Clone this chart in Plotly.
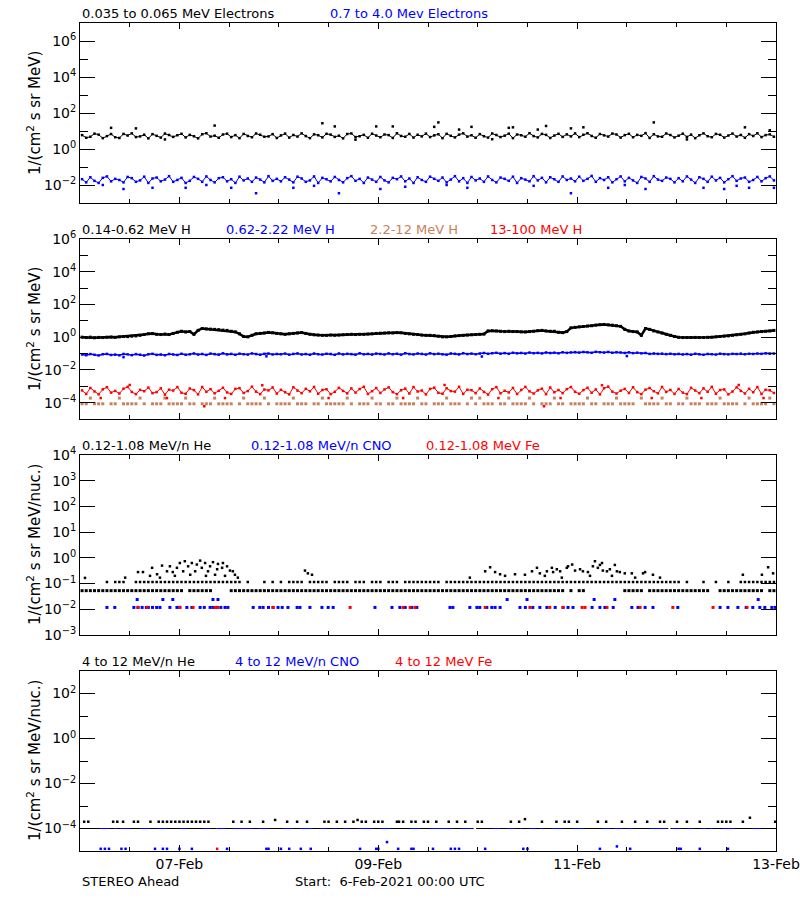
import plotly.graph_objects as go

# ---------------- time base: hours after 6-Feb-2021 00:00 UTC ----------------
HOUR_CENTRES = [h + 0.5 for h in range(168)]
X_MAJOR = [24, 72, 120, 168]
X_LABELS = ["07-Feb", "09-Feb", "11-Feb", "13-Feb"]
X_MINOR = [12, 36, 48, 60, 84, 96, 108, 132, 144, 156]

# ---------------- Panel 1: electrons (hourly band + isolated points) ----------------
E_LOW = [
    5.9, 4.2, 4.8, 7.1, 6.3, 4.0, 5.2, 6.8, 4.5, 4.1, 6.9, 5.6, 7.4, 4.6, 5.0, 6.2, 3.9, 6.7, 5.4, 4.3, 7.2, 6.0, 4.7, 5.8,
    7.0, 4.4, 6.1, 5.1, 3.9, 6.6, 7.5, 4.9, 5.5, 4.2, 6.4, 7.1, 4.6, 5.9, 4.0, 6.9, 5.3, 4.5, 7.3, 6.2, 4.8, 5.0, 6.7, 4.1,
    5.7, 7.2, 4.3, 6.0, 4.9, 7.4, 5.2, 4.0, 6.5, 5.8, 4.4, 7.0, 6.3, 4.7, 5.5, 3.9, 6.8, 7.3, 4.6, 5.1, 6.1, 4.2, 7.1, 5.6,
    4.5, 6.4, 5.9, 4.1, 7.5, 5.3, 4.8, 6.9, 4.3, 6.2, 5.0, 7.2, 4.6, 5.7, 6.6, 4.0, 7.0, 5.4, 4.4, 6.3, 7.4, 4.9, 5.8, 4.2,
    6.7, 5.1, 4.3, 7.3, 6.0, 4.6, 5.5, 7.1, 4.0, 6.4, 5.8, 4.8, 7.6, 5.2, 4.4, 6.9, 6.1, 4.1, 5.6, 7.0, 4.7, 6.5, 5.0, 7.4,
    4.6, 6.2, 7.5, 5.3, 4.2, 6.8, 5.7, 4.9, 7.2, 6.4, 4.3, 5.9, 7.0, 4.5, 6.1, 5.4, 7.6, 4.1, 6.6, 5.0, 4.8, 7.3, 6.0, 4.4,
    5.5, 7.1, 4.7, 6.3, 4.0, 5.8, 7.4, 5.1, 4.5, 6.9, 6.2, 4.3, 5.6, 7.2, 4.9, 6.0, 4.2, 6.7, 5.3, 7.5, 4.6, 5.9, 6.5, 4.8,
]
E_LOW_SPIKES = [(7.5, 15), (13.5, 14), (32.5, 20), (58.5, 27), (61.5, 18), (71.5, 18), (75.5, 18), (85.5, 17), (86.5, 30),
                (91.5, 12), (94.5, 17), (103.5, 15), (104.5, 16), (110.5, 12), (112.5, 19), (118.5, 14), (121.5, 16),
                (138.5, 30), (160.5, 16), (166.5, 11), (20.5, 3.4), (66.5, 3.3), (99.5, 3.5), (146.5, 3.4)]
E_HIGH = [
    0.021, 0.014, 0.027, 0.017, 0.013, 0.025, 0.030, 0.016, 0.022, 0.019, 0.014, 0.028, 0.024, 0.015, 0.018, 0.029, 0.013, 0.023, 0.026, 0.016, 0.020, 0.031, 0.015, 0.019,
    0.025, 0.013, 0.017, 0.028, 0.022, 0.015, 0.030, 0.019, 0.014, 0.024, 0.027, 0.016, 0.021, 0.013, 0.029, 0.018, 0.023, 0.015, 0.026, 0.020, 0.014, 0.031, 0.017, 0.022,
    0.016, 0.027, 0.020, 0.014, 0.029, 0.023, 0.015, 0.018, 0.030, 0.013, 0.025, 0.021, 0.016, 0.028, 0.019, 0.014, 0.024, 0.031, 0.017, 0.022, 0.013, 0.026, 0.020, 0.015,
    0.028, 0.018, 0.014, 0.025, 0.021, 0.030, 0.016, 0.023, 0.013, 0.027, 0.019, 0.015, 0.029, 0.022, 0.017, 0.026, 0.014, 0.020, 0.031, 0.016, 0.024, 0.013, 0.028, 0.018,
    0.023, 0.015, 0.030, 0.019, 0.014, 0.026, 0.022, 0.017, 0.029, 0.013, 0.024, 0.020, 0.016, 0.031, 0.018, 0.025, 0.014, 0.027, 0.021, 0.015, 0.030, 0.019, 0.023, 0.016,
    0.029, 0.017, 0.022, 0.032, 0.015, 0.024, 0.019, 0.027, 0.014, 0.021, 0.030, 0.016, 0.025, 0.018, 0.013, 0.028, 0.023, 0.015, 0.031, 0.020, 0.017, 0.026, 0.022, 0.014,
    0.024, 0.016, 0.030, 0.020, 0.013, 0.027, 0.022, 0.015, 0.029, 0.018, 0.025, 0.014, 0.021, 0.031, 0.017, 0.023, 0.026, 0.015, 0.019, 0.028, 0.016, 0.024, 0.030, 0.018,
]
E_HIGH_DIPS = [(10.5, 0.006), (17.5, 0.007), (25.5, 0.007), (36.5, 0.007), (42.5, 0.0035), (51.5, 0.007), (62.5, 0.0035),
               (72.5, 0.006), (78.5, 0.008), (93.5, 0.007), (118.5, 0.0035), (127.5, 0.007), (136.5, 0.006),
               (150.5, 0.007), (155.5, 0.006), (161.5, 0.007), (167.5, 0.007), (5.5, 0.010), (30.5, 0.010),
               (56.5, 0.009), (88.5, 0.010), (109.5, 0.009), (131.5, 0.010), (158.5, 0.009)]

# ---------------- Panel 2: protons (hourly) ----------------
H_LOW = [
    1.0, 0.95, 1.0, 0.92, 0.97, 0.95, 1.0, 1.02, 0.98, 1.05, 1.1, 1.08, 1.15, 1.2, 1.3, 1.45, 1.6, 1.65, 1.5, 1.45, 1.55, 1.45, 1.7, 2.0,
    2.3, 2.1, 2.2, 1.5, 2.6, 3.4, 3.2, 3.1, 3.0, 2.9, 2.7, 2.6, 2.3, 2.1, 1.6, 1.1, 1.05, 1.3, 1.6, 1.7, 1.8, 1.95, 1.85, 1.7,
    1.6, 1.5, 1.6, 1.7, 1.8, 1.9, 1.7, 1.5, 1.4, 1.35, 1.3, 1.3, 1.35, 1.3, 1.35, 1.4, 1.45, 1.5, 1.45, 1.5, 1.5, 1.55, 1.6, 1.7,
    1.75, 1.8, 1.85, 1.8, 1.9, 1.85, 1.7, 1.6, 1.5, 1.45, 1.35, 1.3, 1.3, 1.25, 1.15, 1.05, 1.05, 1.1, 1.2, 1.25, 1.3, 1.35, 1.4, 1.45,
    1.5, 1.55, 2.4, 2.5, 2.4, 2.3, 2.2, 2.3, 2.2, 2.2, 2.1, 2.1, 2.2, 2.3, 2.5, 2.6, 2.4, 2.3, 2.3, 2.0, 1.9, 2.2, 3.7, 4.0,
    4.3, 4.5, 4.8, 5.0, 5.5, 5.8, 6.0, 5.7, 5.4, 5.0, 4.6, 3.0, 2.4, 2.2, 2.1, 1.3, 3.4, 3.0, 2.4, 2.1, 1.8, 1.5, 1.3, 1.1,
    0.98, 0.95, 0.95, 0.96, 0.97, 0.95, 0.96, 0.98, 1.0, 1.05, 1.1, 1.15, 1.2, 1.3, 1.4, 1.5, 1.6, 1.8, 2.0, 2.1, 2.2, 2.3, 2.4, 2.6,
]
H_MID = [
    0.088, 0.079, 0.093, 0.084, 0.077, 0.091, 0.095, 0.082, 0.086, 0.078, 0.094, 0.089, 0.080, 0.092, 0.085, 0.076, 0.090, 0.096, 0.083, 0.087, 0.079, 0.094, 0.088, 0.082,
    0.097, 0.085, 0.090, 0.101, 0.087, 0.094, 0.083, 0.099, 0.092, 0.086, 0.103, 0.089, 0.095, 0.084, 0.098, 0.091, 0.087, 0.102, 0.093, 0.085, 0.096, 0.100, 0.088, 0.094,
    0.090, 0.099, 0.086, 0.095, 0.102, 0.088, 0.093, 0.085, 0.100, 0.091, 0.087, 0.097, 0.094, 0.084, 0.101, 0.089, 0.096, 0.092, 0.086, 0.103, 0.090, 0.095, 0.087, 0.099,
    0.094, 0.088, 0.102, 0.091, 0.097, 0.086, 0.104, 0.093, 0.089, 0.100, 0.095, 0.087, 0.103, 0.092, 0.098, 0.090, 0.086, 0.101, 0.096, 0.089, 0.105, 0.093, 0.099, 0.091,
    0.100, 0.108, 0.096, 0.104, 0.111, 0.099, 0.106, 0.097, 0.112, 0.103, 0.109, 0.100, 0.114, 0.105, 0.110, 0.102, 0.116, 0.107, 0.113, 0.104, 0.119, 0.110, 0.117, 0.122,
    0.114, 0.124, 0.118, 0.111, 0.127, 0.120, 0.115, 0.125, 0.112, 0.121, 0.116, 0.109, 0.118, 0.106, 0.113, 0.103, 0.108, 0.095, 0.101, 0.096, 0.099, 0.092, 0.097, 0.090,
    0.095, 0.088, 0.093, 0.086, 0.097, 0.090, 0.084, 0.094, 0.091, 0.087, 0.098, 0.092, 0.089, 0.096, 0.093, 0.099, 0.091, 0.097, 0.094, 0.101, 0.096, 0.103, 0.098, 0.100,
]
H_MID_DIPS = [(10.5, 0.060), (45.0, 0.068), (97.0, 0.066), (132.0, 0.070)]
H_2_12 = [
    8.5e-5, 8.5e-5, 1.9e-4, 8.5e-5, 8.5e-5, 8.5e-5, None, 8.5e-5, 8.5e-5, 1.9e-4, 8.5e-5, 8.5e-5, 8.5e-5, 8.5e-5, 1.9e-4, 8.5e-5, None, 8.5e-5, 8.5e-5, 8.5e-5, 1.9e-4, 8.5e-5, 8.5e-5, 8.5e-5,
    8.5e-5, 1.9e-4, 8.5e-5, 8.5e-5, None, 8.5e-5, 8.5e-5, 8.5e-5, 1.9e-4, 8.5e-5, 8.5e-5, 8.5e-5, 8.5e-5, None, 8.5e-5, 1.9e-4, 8.5e-5, 8.5e-5, 8.5e-5, 8.5e-5, 1.9e-4, 8.5e-5, None, 8.5e-5,
    8.5e-5, 8.5e-5, 8.5e-5, 1.9e-4, 8.5e-5, 8.5e-5, 8.5e-5, None, 8.5e-5, 8.5e-5, 1.9e-4, 8.5e-5, 8.5e-5, 8.5e-5, 8.5e-5, 8.5e-5, 1.9e-4, 8.5e-5, None, 8.5e-5, 8.5e-5, 8.5e-5, 1.9e-4, 8.5e-5,
    8.5e-5, None, 8.5e-5, 8.5e-5, 1.9e-4, 8.5e-5, 8.5e-5, 8.5e-5, 8.5e-5, 1.9e-4, 8.5e-5, 8.5e-5, None, 8.5e-5, 8.5e-5, 8.5e-5, 1.9e-4, 8.5e-5, 8.5e-5, 8.5e-5, None, 8.5e-5, 1.9e-4, 8.5e-5,
    1.9e-4, 8.5e-5, 8.5e-5, 8.5e-5, None, 8.5e-5, 8.5e-5, 1.9e-4, 8.5e-5, 8.5e-5, 8.5e-5, 8.5e-5, 1.9e-4, 8.5e-5, None, 8.5e-5, 8.5e-5, 8.5e-5, 1.9e-4, 8.5e-5, 8.5e-5, None, 8.5e-5, 8.5e-5,
    8.5e-5, 8.5e-5, 1.9e-4, 8.5e-5, 8.5e-5, None, 8.5e-5, 8.5e-5, 8.5e-5, 1.9e-4, 8.5e-5, 8.5e-5, 8.5e-5, 8.5e-5, None, 1.9e-4, 8.5e-5, 8.5e-5, 8.5e-5, 8.5e-5, 1.9e-4, 8.5e-5, 8.5e-5, None,
    8.5e-5, 8.5e-5, 1.9e-4, 8.5e-5, 8.5e-5, 8.5e-5, None, 8.5e-5, 8.5e-5, 8.5e-5, 1.9e-4, 8.5e-5, 8.5e-5, 8.5e-5, 8.5e-5, None, 8.5e-5, 1.9e-4, 8.5e-5, 8.5e-5, 8.5e-5, 8.5e-5, 1.9e-4, 8.5e-5,
]
H_HIGH = [
    5.6e-4, 3.4e-4, 7.9e-4, 4.8e-4, 3.2e-4, 6.5e-4, 8.8e-4, 4.1e-4, 5.2e-4, 3.6e-4, 7.1e-4, 9.2e-4, 4.5e-4, 3.3e-4, 6.0e-4, 5.0e-4, 8.3e-4, 3.8e-4, 4.4e-4, 7.5e-4, 3.1e-4, 6.2e-4, 5.5e-4, 8.9e-4,
    4.0e-4, 3.5e-4, 7.3e-4, 5.8e-4, 3.2e-4, 9.0e-4, 4.6e-4, 6.7e-4, 3.7e-4, 5.3e-4, 8.1e-4, 4.2e-4, 3.4e-4, 6.9e-4, 7.7e-4, 3.9e-4, 5.1e-4, 9.4e-4, 4.7e-4, 3.3e-4, 6.3e-4, 5.6e-4, 8.5e-4, 3.6e-4,
    6.1e-4, 4.3e-4, 3.2e-4, 8.7e-4, 5.4e-4, 3.8e-4, 7.0e-4, 4.9e-4, 9.1e-4, 3.5e-4, 5.9e-4, 6.6e-4, 3.3e-4, 4.6e-4, 8.0e-4, 5.2e-4, 3.7e-4, 7.4e-4, 4.1e-4, 6.8e-4, 9.3e-4, 3.4e-4, 5.0e-4, 7.8e-4,
    3.9e-4, 6.4e-4, 8.6e-4, 4.4e-4, 3.3e-4, 5.7e-4, 7.2e-4, 3.6e-4, 9.0e-4, 4.8e-4, 5.5e-4, 3.2e-4, 6.9e-4, 8.2e-4, 4.0e-4, 3.5e-4, 7.6e-4, 5.1e-4, 4.7e-4, 9.3e-4, 3.4e-4, 6.1e-4, 5.8e-4, 3.8e-4,
    7.3e-4, 4.5e-4, 3.1e-4, 6.6e-4, 8.9e-4, 3.7e-4, 5.3e-4, 4.2e-4, 7.9e-4, 3.4e-4, 6.0e-4, 9.2e-4, 4.9e-4, 3.6e-4, 5.6e-4, 7.1e-4, 3.3e-4, 8.4e-4, 4.3e-4, 5.9e-4, 3.8e-4, 6.7e-4, 9.0e-4, 4.6e-4,
    3.5e-4, 5.8e-4, 8.1e-4, 4.0e-4, 6.4e-4, 3.2e-4, 7.6e-4, 9.5e-4, 4.7e-4, 3.6e-4, 5.4e-4, 6.9e-4, 3.9e-4, 8.7e-4, 4.4e-4, 3.3e-4, 6.2e-4, 7.8e-4, 5.0e-4, 3.7e-4, 9.1e-4, 4.5e-4, 6.0e-4, 3.4e-4,
    6.8e-4, 4.1e-4, 3.3e-4, 8.0e-4, 5.5e-4, 3.8e-4, 7.4e-4, 4.6e-4, 9.2e-4, 3.5e-4, 5.9e-4, 6.4e-4, 3.2e-4, 4.8e-4, 8.6e-4, 5.2e-4, 3.6e-4, 7.0e-4, 4.3e-4, 9.0e-4, 3.4e-4, 6.1e-4, 5.7e-4, 3.9e-4,
]
H_HIGH_EXTRA = [(5, 1.9e-4), (12, 1.2e-3), (21, 1.9e-4), (30, 6e-5), (35, 1.9e-4), (44, 1.15e-3), (60, 1.9e-4),
                (78, 1.9e-4), (88, 1.2e-3), (101, 1.9e-4), (112, 6e-5), (116, 1.9e-4), (126, 1.15e-3), (138, 1.9e-4),
                (150, 1.9e-4), (159, 1.2e-3), (165, 1.9e-4)]

# ---------------- Panel 3: 0.12-1.08 MeV/n heavy ions ----------------
P3_HE_BASE_LEVEL = 0.053
P3_HE_BASE_RUNS = [(0, 25), (26, 32), (36, 117), (118, 119), (120, 122), (131, 136), (137, 152), (154, 165), (166, 168)]
P3_HE_MID_LEVEL = 0.115
P3_HE_MID_HOURS = [6, 8, 9, 10, 13, 14, 15, 16, 17, 18, 19, 20, 21, 22, 23, 24, 25, 26, 27, 28, 29, 30, 31, 32, 33, 34, 35, 36,
                   37, 38, 40, 44, 46, 48, 50, 51, 52, 53, 55, 56, 57, 58, 59, 61, 62, 63, 64, 66, 67, 68, 70, 71, 72, 74, 75, 76,
                   78, 79, 80, 81, 82, 83, 84, 85, 86, 88, 89, 90, 91, 92, 93, 94, 95, 96, 97, 98, 99, 100, 101, 102, 103, 104,
                   105, 106, 107, 108, 109, 110, 111, 112, 113, 114, 115, 116, 117, 118, 119, 120, 121, 122, 123, 124, 125, 126,
                   127, 128, 129, 130, 131, 132, 133, 134, 135, 136, 137, 138, 139, 140, 141, 142, 143, 144, 146, 150, 153, 156,
                   159, 160, 161, 162, 163, 164, 165, 166, 167]
P3_HE_UPPER = [
    (1.2, 0.166), (10.9, 0.17), (14.0, 0.28), (15.2, 0.28), (16.9, 0.2), (17.4, 0.41), (18.6, 0.23), (19.3, 0.17), (19.8, 0.5),
    (21.0, 0.3), (21.7, 0.47), (22.4, 0.28), (22.9, 0.2), (23.4, 0.41), (24.1, 0.63), (24.9, 0.3), (25.3, 0.74), (26.1, 0.47),
    (26.6, 0.22), (27.0, 0.63), (27.8, 0.3), (28.2, 0.55), (29.0, 0.78), (29.4, 0.41), (30.2, 0.63), (30.4, 0.2), (30.9, 0.3),
    (31.4, 0.47), (32.1, 0.68), (32.6, 0.22), (33.1, 0.36), (33.3, 0.58), (34.3, 0.41), (34.5, 0.63), (35.0, 0.2), (35.5, 0.47),
    (36.2, 0.32), (36.9, 0.3), (37.4, 0.22), (38.1, 0.17), (54.3, 0.32), (55.0, 0.25), (56.0, 0.22), (94.1, 0.17), (97.8, 0.3),
    (99.0, 0.43), (100.2, 0.28), (101.4, 0.23), (102.6, 0.2), (105.0, 0.23), (107.4, 0.22), (109.1, 0.3), (110.3, 0.41),
    (111.0, 0.25), (112.2, 0.2), (112.7, 0.3), (113.9, 0.41), (114.2, 0.28), (115.1, 0.36), (115.9, 0.3), (116.3, 0.17),
    (117.5, 0.41), (117.8, 0.47), (118.8, 0.55), (119.5, 0.32), (120.7, 0.36), (121.4, 0.3), (122.6, 0.28), (123.1, 0.2),
    (123.8, 0.47), (124.3, 0.74), (125.0, 0.41), (125.5, 0.53), (126.0, 0.63), (126.2, 0.32), (127.2, 0.3), (127.9, 0.36),
    (128.4, 0.2), (129.1, 0.53), (129.6, 0.3), (130.3, 0.28), (131.5, 0.25), (133.2, 0.25), (134.0, 0.17), (135.9, 0.25),
    (136.4, 0.28), (138.3, 0.22), (140.0, 0.17), (160.0, 0.22), (164.6, 0.22), (166.1, 0.43), (167.3, 0.25),
]
P3_CNO_LOW_LEVEL = 0.0118
P3_CNO_LOW_HOURS = [6.5, 8.4, 13, 14, 15, 16, 16.5, 17.5, 18.5, 19.3, 21.7, 23.4, 24.1, 25.8, 27, 29, 30, 31.4, 32.1, 33, 34,
                    35, 35.7, 41.8, 43.4, 44.2, 45.5, 46.6, 47.8, 48.8, 50.2, 52.4, 53.1, 55.5, 58.4, 59.9, 61.1, 71.2, 75.3,
                    77.2, 78.5, 80.1, 81.3, 89.3, 90, 94.1, 95.8, 96.5, 98.2, 99.4, 100.2, 101.4, 106.2, 107.5, 109.3, 111,
                    112.7, 114.7, 116.6, 117.8, 119, 123.6, 125.5, 126.7, 128.7, 133.2, 134.7, 136.4, 138.3, 144.3, 154.5,
                    156.4, 158.8, 160.8, 162.4, 164.1, 165.3, 167, 167.8]
P3_CNO_HIGH_LEVEL = 0.024
P3_CNO_HIGH_HOURS = [13.8, 20, 22.4, 32.1, 33.3, 103.1, 107.9, 124.1, 129.1, 163.7]
P3_FE_LEVEL = 0.0118
P3_FE_HOURS = [14, 16.2, 24.1, 27.3, 32.6, 33.3, 46.6, 65.2, 78, 79.7, 80.9, 97.8, 108.6, 113.4, 116.6, 121.2, 121.9,
               127.2, 135.2, 143.1, 152.8, 161]

# ---------------- Panel 4: 4-12 MeV/n heavy ions ----------------
P4_HE_BASE_LEVEL = 1.0e-4
P4_HE_BASE_SEGMENTS = [(0, 33), (33.5, 95), (95.6, 142), (142.5, 168)]
P4_HE_UPPER = [
    (1, 2e-4), (2, 2e-4), (8, 2e-4), (9, 2e-4), (10.4, 2e-4), (13, 2e-4), (14, 2e-4), (17, 2e-4), (19, 2e-4), (20, 2e-4),
    (21, 2e-4), (22, 2e-4), (23, 2e-4), (24, 2e-4), (25, 2e-4), (26, 2e-4), (27, 2e-4), (28, 2e-4), (29, 2e-4), (30, 2e-4),
    (31, 2e-4), (37, 2e-4), (39, 2e-4), (41, 2e-4), (44.2, 2e-4), (47.1, 2.4e-4), (50, 2e-4), (52.4, 2e-4), (54.8, 2e-4),
    (59, 2e-4), (60, 2e-4), (62, 2e-4), (64, 2e-4), (66, 2e-4), (67, 2.4e-4), (68, 2e-4), (69, 2e-4), (71, 2e-4), (72, 2e-4),
    (73, 2e-4), (76.5, 2e-4), (77, 2e-4), (78, 2e-4), (80, 2e-4), (81, 2e-4), (83, 2e-4), (84, 2e-4), (86, 2e-4), (89, 2e-4),
    (91, 2e-4), (93, 2e-4), (96, 2e-4), (97, 2e-4), (104, 2e-4), (106, 2e-4), (107.4, 2.6e-4), (111.5, 2e-4), (115, 2e-4),
    (117, 2e-4), (118, 2e-4), (120, 2e-4), (125, 2e-4), (127, 2e-4), (130.8, 2e-4), (134, 2e-4), (136.9, 2e-4), (140, 2e-4),
    (141, 2e-4), (144.1, 2e-4), (146.5, 2e-4), (149.6, 2e-4), (154, 2e-4), (155, 2e-4), (156, 2e-4), (157, 2e-4),
    (160, 2e-4), (161.7, 3e-4), (167.8, 2e-4),
]
P4_CNO_BASE_LEVEL = 1.0e-4
P4_CNO_BASE_SEGMENTS = [(1.5, 3.0), (4.8, 7.2), (8.2, 8.9), (9.7, 12.1), (14.5, 17.0), (18.6, 21.0), (24.1, 25.8),
                        (29.7, 31.4), (33.0, 35.2), (36.9, 41.8), (43.0, 45.5), (49.0, 51.4), (53.1, 56.2), (58.0, 59.5),
                        (61.1, 62.0), (63.5, 65.0), (66.9, 70.7), (72.5, 75.0), (79.7, 82.1), (84.5, 90.0), (92.0, 94.5),
                        (99.7, 101.4), (103.0, 105.0), (106.2, 106.7), (108.5, 110.0), (111.0, 111.8), (114.0, 116.5),
                        (119.0, 121.5), (126.2, 127.9), (129.0, 131.0), (132.0, 133.5), (137.6, 141.7), (143.0, 145.0),
                        (146.5, 148.0), (150.0, 151.2), (152.0, 152.8), (155.0, 158.0), (162.4, 168.0)]
P4_CNO_LOW = [
    (5, 1.25e-5), (6, 1.25e-5), (7, 1.25e-5), (10, 1.25e-5), (11, 1.25e-5), (18.1, 1.25e-5), (20, 1.25e-5), (21, 1.25e-5),
    (24, 1.25e-5), (27, 1.25e-5), (35.5, 1.25e-5), (45, 1.25e-5), (45.5, 1.25e-5), (48.5, 1.25e-5), (50.5, 1.25e-5),
    (53.3, 1.25e-5), (55.7, 1.25e-5), (67.6, 1.25e-5), (71.5, 1.25e-5), (72, 1.25e-5), (74.1, 2.5e-5), (76.8, 1.25e-5),
    (80, 1.25e-5), (80.5, 1.25e-5), (85.2, 1.25e-5), (89.5, 1.25e-5), (90.5, 1.25e-5), (91.5, 1.25e-5), (97.8, 1.25e-5),
    (107, 1.25e-5), (108, 1.25e-5), (125.5, 1.25e-5), (129.6, 1.6e-5), (132.8, 1.25e-5), (144.5, 1.25e-5), (145, 1.25e-5),
    (149.6, 1.25e-5), (156.4, 1.25e-5),
]
P4_FE = [(33.1, 1.25e-5)]

for arr in (E_LOW, E_HIGH, H_LOW, H_MID, H_2_12, H_HIGH):
    assert len(arr) == 168, len(arr)

# ---------------- texts ----------------
TITLES = [
    [("0.035 to 0.065 MeV Electrons", "#000000", 80), ("0.7 to 4.0 Mev Electrons", "#0000FF", 328)],
    [("0.14-0.62 MeV H", "#000000", 80), ("0.62-2.22 MeV H", "#0000FF", 224),
     ("2.2-12 MeV H", "#C8805F", 368), ("13-100 MeV H", "#FF0000", 488)],
    [("0.12-1.08 MeV/n He", "#000000", 80), ("0.12-1.08 MeV/n CNO", "#0000FF", 249), ("0.12-1.08 MeV Fe", "#FF0000", 424)],
    [("4 to 12 MeV/n He", "#000000", 80), ("4 to 12 MeV/n CNO", "#0000FF", 233), ("4 to 12 MeV Fe", "#FF0000", 393)],
]
Y_TITLES = ["1/(cm<sup>2</sup> s sr MeV)", "1/(cm<sup>2</sup> s sr MeV)",
            "1/(cm<sup>2</sup> s sr MeV/nuc.)", "1/(cm<sup>2</sup> s sr MeV/nuc.)"]
Y_RANGES = [(-3, 7), (-5, 6), (-3, 4), (-5, 3)]
Y_MAJOR_EXP = [[-2, 0, 2, 4, 6], [-4, -2, 0, 2, 4, 6], [-3, -2, -1, 0, 1, 2, 3, 4], [-4, -2, 0, 2]]
Y_MINOR_EXP = [[-1, 1, 3, 5], [-3, -1, 1, 3, 5], [], [-3, -1, 1]]
FOOTER_LEFT = "STEREO Ahead"
FOOTER_MID = "Start:\u00a0 6-Feb-2021 00:00 UTC"

# ---------------- geometry ----------------
W, H = 800, 900
L_PX, R_PX = 80, 776
PANEL_TOPS = [23, 239, 455, 671]
PANEL_H = 180
FONT = "DejaVu Sans"

def px_x(px):
    return (px - L_PX) / (R_PX - L_PX)

def px_y(py):
    return 1 - py / H

fig = go.Figure()

def axes(i):
    return ("x" if i == 0 else f"x{i+1}", "y" if i == 0 else f"y{i+1}")

def add_points(i, xs, ys, color, size=3):
    xa, ya = axes(i)
    fig.add_trace(go.Scatter(x=xs, y=ys, mode="markers", xaxis=xa, yaxis=ya,
                             marker=dict(symbol="square", size=size, color=color, line=dict(width=0)),
                             hoverinfo="skip", showlegend=False))

def add_band(i, xs, ys, color, width=1, size=2):
    xa, ya = axes(i)
    fig.add_trace(go.Scatter(x=xs, y=ys, mode="lines+markers", xaxis=xa, yaxis=ya,
                             line=dict(color=color, width=width),
                             marker=dict(symbol="square", size=size, color=color, line=dict(width=0)),
                             hoverinfo="skip", showlegend=False))

def add_segments(i, segs, level, color, width=1):
    xs, ys = [], []
    for a, b in segs:
        xs += [a, b, None]
        ys += [level, level, None]
    xa, ya = axes(i)
    fig.add_trace(go.Scatter(x=xs, y=ys, mode="lines", xaxis=xa, yaxis=ya,
                             line=dict(color=color, width=width), hoverinfo="skip", showlegend=False))

def unzip(pairs):
    return [p[0] for p in pairs], [p[1] for p in pairs]

# Panel 1
add_band(0, HOUR_CENTRES, E_LOW, "#000000", width=1, size=2.5)
add_points(0, *unzip(E_LOW_SPIKES), "#000000", size=2.5)
add_band(0, HOUR_CENTRES, E_HIGH, "#0000FF", width=1, size=2.5)
add_points(0, *unzip(E_HIGH_DIPS), "#0000FF", size=2.5)
# Panel 2
add_band(1, HOUR_CENTRES, H_LOW, "#000000", width=2.5, size=3)
add_band(1, HOUR_CENTRES, H_MID, "#0000FF", width=1.5, size=2.5)
add_points(1, *unzip(H_MID_DIPS), "#0000FF", size=2.5)
add_points(1, HOUR_CENTRES, H_2_12, "#C8805F", size=3)
add_band(1, HOUR_CENTRES, H_HIGH, "#FF0000", width=1, size=2.5)
add_points(1, *unzip(H_HIGH_EXTRA), "#FF0000", size=2.5)
# Panel 3
he_base_x = [h + 0.5 for a, b in P3_HE_BASE_RUNS for h in range(a, b)]
add_points(2, he_base_x, [P3_HE_BASE_LEVEL] * len(he_base_x), "#000000")
add_points(2, [h + 0.5 for h in P3_HE_MID_HOURS], [P3_HE_MID_LEVEL] * len(P3_HE_MID_HOURS), "#000000", size=2.5)
add_points(2, *unzip(P3_HE_UPPER), "#000000", size=2.5)
add_points(2, P3_CNO_LOW_HOURS, [P3_CNO_LOW_LEVEL] * len(P3_CNO_LOW_HOURS), "#0000FF")
add_points(2, P3_CNO_HIGH_HOURS, [P3_CNO_HIGH_LEVEL] * len(P3_CNO_HIGH_HOURS), "#0000FF")
add_points(2, P3_FE_HOURS, [P3_FE_LEVEL] * len(P3_FE_HOURS), "#FF0000")
# Panel 4
add_segments(3, P4_HE_BASE_SEGMENTS, P4_HE_BASE_LEVEL, "#000000")
add_points(3, *unzip(P4_HE_UPPER), "#000000", size=2.5)
add_segments(3, P4_CNO_BASE_SEGMENTS, P4_CNO_BASE_LEVEL, "#0000FF")
add_points(3, *unzip(P4_CNO_LOW), "#0000FF", size=2.5)
add_points(3, *unzip(P4_FE), "#FF0000", size=2.5)

def exp_label(e):
    s = str(e).replace("-", "\u2212")
    return f"10<sup>{s}</sup>"

layout = dict(width=W, height=H, margin=dict(l=L_PX, r=W - R_PX, t=0, b=0),
              paper_bgcolor="white", plot_bgcolor="white", showlegend=False,
              font=dict(family=FONT, size=14, color="black"))
annotations = []
for i in range(4):
    top = px_y(PANEL_TOPS[i])
    bot = px_y(PANEL_TOPS[i] + PANEL_H)
    xa, ya = axes(i)
    xkey = "xaxis" if i == 0 else f"xaxis{i+1}"
    ykey = "yaxis" if i == 0 else f"yaxis{i+1}"
    layout[xkey] = dict(domain=[0, 1], anchor=ya, range=[0, 168], showline=True, linecolor="black", linewidth=1,
                        mirror="ticks", ticks="inside", ticklen=6, tickwidth=1, tickcolor="black",
                        tickmode="array", tickvals=X_MAJOR, ticktext=X_LABELS, showticklabels=(i == 3),
                        tickfont=dict(family=FONT, size=14, color="black"), ticklabeloverflow="allow",
                        minor=dict(tickmode="array", tickvals=X_MINOR, ticks="inside", ticklen=4,
                                   tickwidth=1, tickcolor="black", showgrid=False),
                        showgrid=False, zeroline=False, fixedrange=True, automargin=False)
    lo, hi = Y_RANGES[i]
    layout[ykey] = dict(domain=[bot, top], anchor=xa, type="log", range=[lo, hi], showline=True,
                        linecolor="black", linewidth=1, mirror="ticks", ticks="inside", ticklen=15,
                        tickwidth=1, tickcolor="black", tickmode="array",
                        tickvals=[10.0 ** e for e in Y_MAJOR_EXP[i]],
                        ticktext=[exp_label(e) for e in Y_MAJOR_EXP[i]],
                        tickfont=dict(family=FONT, size=14, color="black"),
                        minor=dict(tickmode="array", tickvals=[10.0 ** e for e in Y_MINOR_EXP[i]],
                                   ticks="inside", ticklen=8, tickwidth=1, tickcolor="black", showgrid=False),
                        showgrid=False, zeroline=False, fixedrange=True, automargin=False)
    for text, color, xpx in TITLES[i]:
        annotations.append(dict(text=text, x=px_x(xpx), y=px_y(PANEL_TOPS[i] - 10), xref="paper", yref="paper",
                                xanchor="left", yanchor="middle", showarrow=False,
                                font=dict(family=FONT, size=13, color=color)))
    annotations.append(dict(text=Y_TITLES[i], x=px_x(34), y=(top + bot) / 2, xref="paper", yref="paper",
                            xanchor="center", yanchor="middle", textangle=-90, showarrow=False,
                            font=dict(family=FONT, size=15, color="black")))

annotations.append(dict(text=FOOTER_LEFT, x=px_x(80), y=px_y(881), xref="paper", yref="paper",
                        xanchor="left", yanchor="middle", showarrow=False, font=dict(family=FONT, size=13)))
annotations.append(dict(text=FOOTER_MID, x=px_x(293), y=px_y(881), xref="paper", yref="paper",
                        xanchor="left", yanchor="middle", showarrow=False, font=dict(family=FONT, size=13)))
layout["annotations"] = annotations
fig.update_layout(**layout)
fig.write_html("out.html", config={"displayModeBar": False, "staticPlot": True},
               post_script="document.body.style.margin='0px';document.body.style.overflow='hidden';")
